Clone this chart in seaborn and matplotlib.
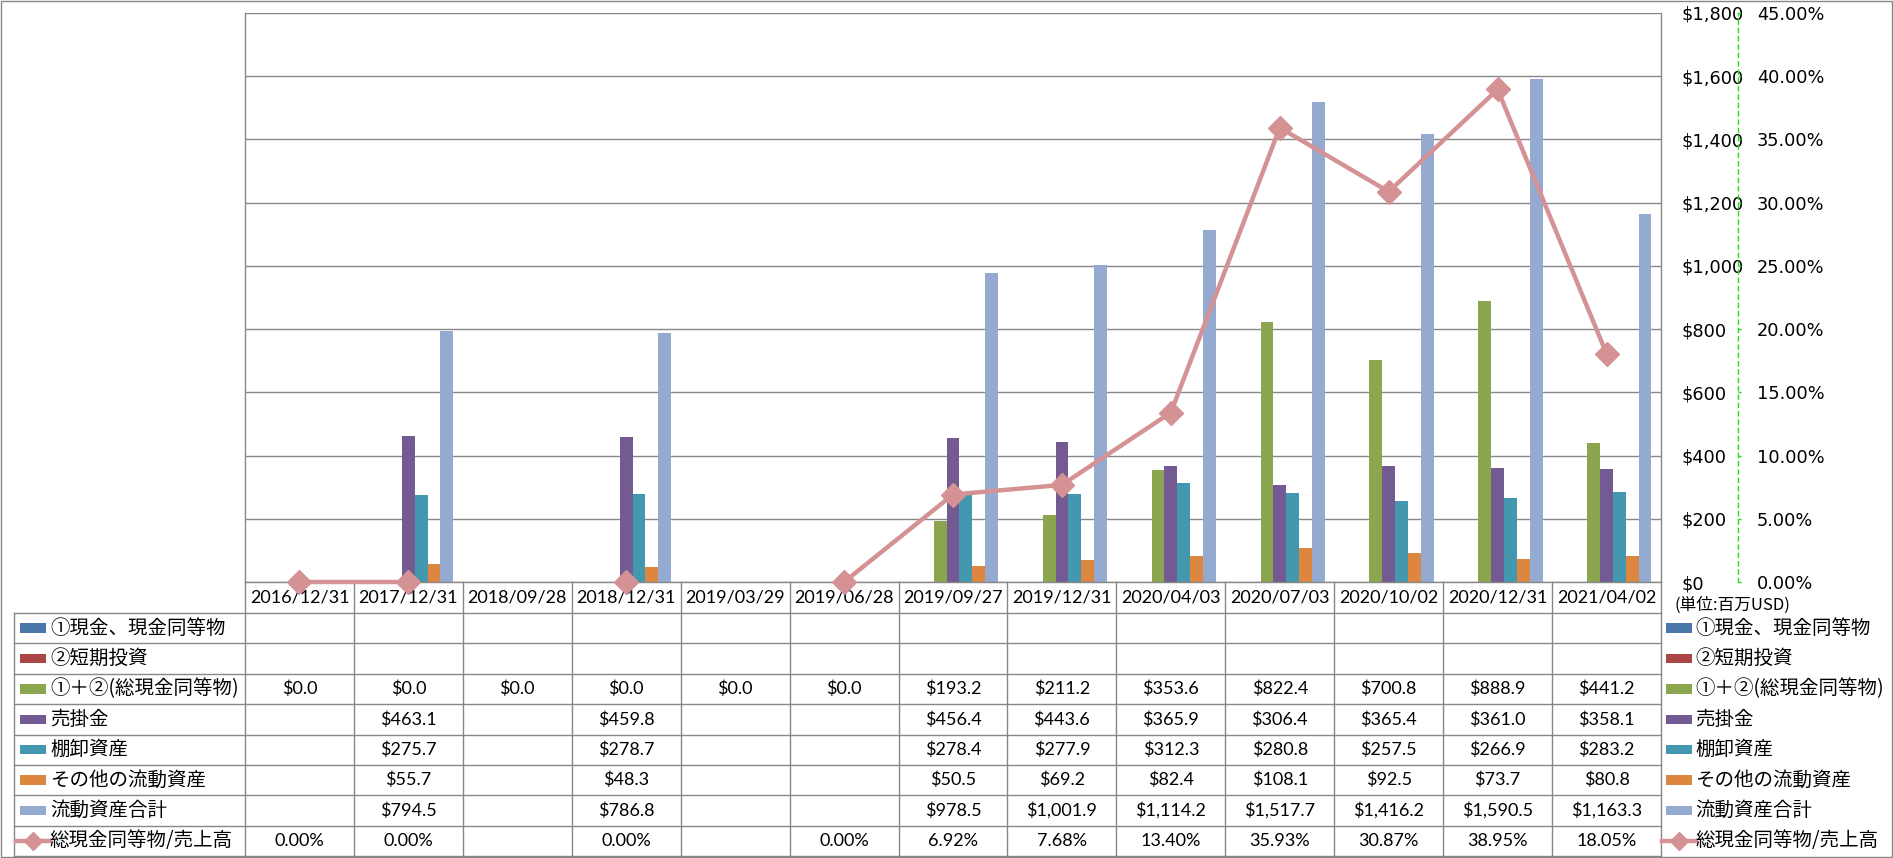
import numpy as np
import pandas as pd
import matplotlib
matplotlib.use("Agg")
import matplotlib.pyplot as plt
import seaborn as sns
from matplotlib.ticker import FuncFormatter, MultipleLocator
from matplotlib.lines import Line2D
from matplotlib.patches import Rectangle

# ---------------- data ----------------
dates = ["2016/12/31", "2017/12/31", "2018/09/28", "2018/12/31", "2019/03/29",
         "2019/06/28", "2019/09/27", "2019/12/31", "2020/04/03", "2020/07/03",
         "2020/10/02", "2020/12/31", "2021/04/02"]
series_names = ["①現金、現金同等物", "②短期投資", "①＋②(総現金同等物)", "売掛金",
                "棚卸資産", "その他の流動資産", "流動資産合計"]
cash = [None] * 13
short_inv = [None] * 13
total_cash = [0.0, 0.0, 0.0, 0.0, 0.0, 0.0, 193.2, 211.2, 353.6, 822.4, 700.8, 888.9, 441.2]
receivables = [None, 463.1, None, 459.8, None, None, 456.4, 443.6, 365.9, 306.4, 365.4, 361.0, 358.1]
inventory = [None, 275.7, None, 278.7, None, None, 278.4, 277.9, 312.3, 280.8, 257.5, 266.9, 283.2]
other_assets = [None, 55.7, None, 48.3, None, None, 50.5, 69.2, 82.4, 108.1, 92.5, 73.7, 80.8]
total_current = [None, 794.5, None, 786.8, None, None, 978.5, 1001.9, 1114.2, 1517.7, 1416.2, 1590.5, 1163.3]
line_name = "総現金同等物/売上高"
ratio_pct = [0.00, 0.00, None, 0.00, None, 0.00, 6.92, 7.68, 13.40, 35.93, 30.87, 38.95, 18.05]
unit_label = "(単位:百万USD)"

bar_series = [cash, short_inv, total_cash, receivables, inventory, other_assets, total_current]
colors = ["#4A76AA", "#AA4643", "#8BA64F", "#735A92", "#4398AF", "#DD863F", "#95AAD1"]
line_color = "#D59294"

rows = []
for name, vals in zip(series_names, bar_series):
    for d, v in zip(dates, vals):
        rows.append({"date": d, "series": name, "value": np.nan if v is None else v})
df = pd.DataFrame(rows)

# ---------------- figure ----------------
W, H = 1893, 858
fig = plt.figure(figsize=(W / 100, H / 100), dpi=100)
plt.rcParams["font.family"] = ["Lato", "Noto Sans CJK JP", "DejaVu Sans"]

L, R, T, B = 245, 1661, 13, 582
ax = fig.add_axes([L / W, 1 - B / H, (R - L) / W, (B - T) / H])
ax.set_zorder(1)
ax.patch.set_visible(False)

sns.barplot(data=df, x="date", y="value", hue="series", order=dates,
            hue_order=series_names, palette=dict(zip(series_names, colors)),
            width=0.825, saturation=1, errorbar=None, legend=False,
            linewidth=0, ax=ax)
ax.set_xlim(-0.5, len(dates) - 0.5)
ax.set_ylim(0, 1800)
ax.set_xticks([])
ax.set_xlabel("")
ax.set_ylabel("")
ax.grid(axis="y", color="#878787", linewidth=1.0)
ax.set_axisbelow(True)
for s in ["left", "right", "bottom"]:
    ax.spines[s].set_color("#878787")
    ax.spines[s].set_linewidth(1.0)
ax.spines["top"].set_visible(False)

ax2 = ax.twinx()
ax2.set_zorder(2)

# primary value labels sit at the right side, left of the secondary axis
ax.yaxis.set_major_locator(MultipleLocator(200))
ax.yaxis.set_major_formatter(FuncFormatter(lambda v, p: f"${v:,.0f}"))
ax.yaxis.tick_right()
ax.tick_params(axis="y", which="both", left=False, right=True, labelleft=False,
               labelright=True, length=0, pad=15, labelsize=12.8, labelcolor="#000000")
for lab in ax.get_yticklabels():
    lab.set_fontfamily("DejaVu Sans")

ratio = np.array([np.nan if v is None else v / 100 for v in ratio_pct])
ax2.plot(np.arange(len(dates)), ratio, color=line_color, linewidth=3.2,
         marker="D", markersize=12.5, markerfacecolor=line_color,
         markeredgecolor=line_color, clip_on=False, zorder=5)
ax2.set_ylim(0, 0.45)
ax2.yaxis.set_major_locator(MultipleLocator(0.05))
ax2.yaxis.set_major_formatter(FuncFormatter(lambda v, p: f"{v * 100:.2f}%"))
ax2.spines["right"].set_position(("outward", (1738 - R) * 0.72))
ax2.spines["right"].set_color("#22DD22")
ax2.spines["right"].set_linestyle((0, (3, 3)))
ax2.spines["right"].set_linewidth(1.0)
for s in ["left", "top", "bottom"]:
    ax2.spines[s].set_visible(False)
ax2.tick_params(axis="y", length=2.2, width=1, color="#22DD22", pad=11.5,
                labelsize=12.8, labelcolor="#000000")
for lab in ax2.get_yticklabels():
    lab.set_fontfamily("DejaVu Sans")

# ---------------- data table (overlay) ----------------
ov = fig.add_axes([0, 0, 1, 1])
ov.set_zorder(0)
ov.set_xlim(0, W)
ov.set_ylim(H, 0)
ov.axis("off")
grid_c = "#878787"
ov.add_patch(Rectangle((0.5, 0.5), W - 1.5, H - 1.5, fill=False, edgecolor=grid_c, lw=1.0))

n = len(dates)
colw = (R - L) / n
row_top = 613
rowh = (856 - 613) / 8
row_y = [row_top + i * rowh for i in range(9)]
left_x = 14

for i in range(n + 1):
    x = L + i * colw
    ov.plot([x, x], [B, row_y[-1]], color=grid_c, lw=1.0)
ov.plot([left_x, left_x], [row_top, row_y[-1]], color=grid_c, lw=1.0)
for y in row_y:
    ov.plot([left_x, R], [y, y], color=grid_c, lw=1.0)

num_fs = 13
for i, d in enumerate(dates):
    ov.text(L + (i + 0.5) * colw, (B + row_top) / 2, d, ha="center", va="center",
            fontsize=num_fs)

all_series = bar_series + [ratio_pct]
all_names = series_names + [line_name]
for r, (name, vals) in enumerate(zip(all_names, all_series)):
    yc = (row_y[r] + row_y[r + 1]) / 2
    for i, v in enumerate(vals):
        if v is None:
            continue
        txt = f"{v:.2f}%" if r == len(all_names) - 1 else f"${v:,.1f}"
        ov.text(L + (i + 0.5) * colw, yc, txt, ha="center", va="center", fontsize=num_fs)
    # keys in the table and in the right legend
    for kx, tx in [(20, 50), (1666, 1695)]:
        if r < len(series_names):
            ov.add_patch(Rectangle((kx, yc - 4.8), 26, 9.6, color=colors[r], lw=0))
        else:
            ov.add_line(Line2D([kx - 4, kx + 30], [yc, yc], color=line_color, lw=3.2))
            ov.add_line(Line2D([kx + 13], [yc], marker="D", markersize=9,
                               color=line_color, lw=0))
        ov.text(tx, yc, name, ha="left", va="center", fontsize=14,
                family=["Noto Sans CJK JP", "DejaVu Sans"])

ov.text(1675, 605, unit_label, ha="left", va="center", fontsize=12,
        family=["Noto Sans CJK JP", "DejaVu Sans"])

fig.savefig("out.png", dpi=100)
